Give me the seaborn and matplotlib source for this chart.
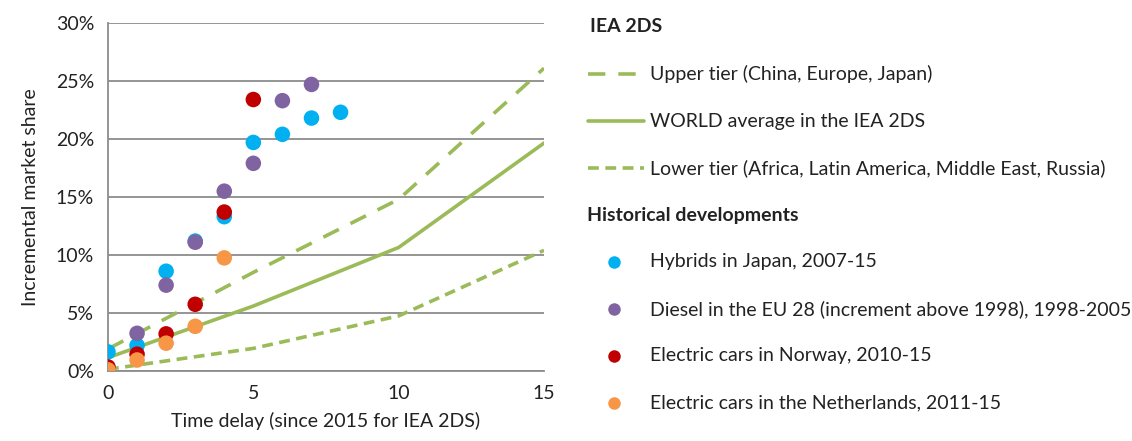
import numpy as np
import pandas as pd
import matplotlib
matplotlib.use("Agg")
import matplotlib.pyplot as plt
import seaborn as sns
from matplotlib.lines import Line2D
from matplotlib.ticker import PercentFormatter

# ── Data ─────────────────────────────────────────────────────────
years_hybrid = [0, 1, 2, 3, 4, 5, 6, 7, 8]
hybrid_japan = [1.65, 2.2, 8.6, 11.2, 13.3, 19.7, 20.4, 21.8, 22.3]

years_diesel = [0, 1, 2, 3, 4, 5, 6, 7]
diesel_eu = [0.0, 3.25, 7.4, 11.1, 15.5, 17.9, 23.3, 24.7]

years_norway = [0, 1, 2, 3, 4, 5]
ev_norway = [0.35, 1.45, 3.2, 5.75, 13.7, 23.4]

years_nl = [0, 1, 2, 3, 4]
ev_nl = [0.1, 0.95, 2.4, 3.85, 9.75]

years_2ds = [0, 5, 10, 15]
upper_tier = [1.9, 8.5, 14.8, 26.1]
world_avg = [1.15, 5.6, 10.65, 19.65]
lower_tier = [0.15, 1.95, 4.75, 10.4]

series_names = [
    "Hybrids in Japan, 2007-15",
    "Diesel in the EU 28 (increment above 1998), 1998-2005",
    "Electric cars in Norway, 2010-15",
    "Electric cars in the Netherlands, 2011-15",
]
line_names = [
    "Upper tier (China, Europe, Japan)",
    "WORLD average in the IEA 2DS",
    "Lower tier (Africa, Latin America, Middle East, Russia)",
]

dot_colors = ["#00B0F0", "#8064A2", "#C00000", "#F79646"]
green = "#9BBB59"
grid_grey = "#8C8C8C"
text_col = "#222222"
fs = 14

hist = pd.concat([
    pd.DataFrame({"year": years_hybrid, "share": hybrid_japan, "series": series_names[0]}),
    pd.DataFrame({"year": years_diesel, "share": diesel_eu, "series": series_names[1]}),
    pd.DataFrame({"year": years_norway, "share": ev_norway, "series": series_names[2]}),
    pd.DataFrame({"year": years_nl, "share": ev_nl, "series": series_names[3]}),
], ignore_index=True)

# ── Figure ───────────────────────────────────────────────────────
sns.set_style("white")
plt.rcParams["font.family"] = ["Lato", "DejaVu Sans"]

fig = plt.figure(figsize=(11.32, 4.41), dpi=100)
ax = fig.add_axes([0.0954, 0.1587, 0.3852, 0.7893])

upper_dash = (0, (4.8, 3.6))
lower_dash = (0, (3.0, 1.8))
lw = 2.6

sns.lineplot(x=years_2ds, y=upper_tier, ax=ax, color=green, linewidth=lw, linestyle=upper_dash)
sns.lineplot(x=years_2ds, y=world_avg, ax=ax, color=green, linewidth=lw)
sns.lineplot(x=years_2ds, y=lower_tier, ax=ax, color=green, linewidth=lw, linestyle=lower_dash)

sns.scatterplot(data=hist, x="year", y="share", hue="series", hue_order=series_names,
                palette=dot_colors, s=125, edgecolor="none", legend=False, ax=ax, zorder=3)

ax.set_xlim(0, 15)
ax.set_ylim(0, 30)
ax.set_xticks([0, 5, 10, 15])
ax.set_yticks(np.arange(0, 31, 5))
ax.yaxis.set_major_formatter(PercentFormatter(decimals=0))
ax.grid(axis="y", color=grid_grey, linewidth=1.3)
ax.set_axisbelow(True)
for side in ["top", "right"]:
    ax.spines[side].set_visible(False)
for side in ["left", "bottom"]:
    ax.spines[side].set_color(grid_grey)
    ax.spines[side].set_linewidth(1.3)
ax.tick_params(axis="both", length=4, width=1.3, color=grid_grey, labelsize=fs,
               labelcolor=text_col, pad=6)
ax.set_xlabel("Time delay (since 2015 for IEA 2DS)", fontsize=fs, color=text_col, labelpad=7)
ax.set_ylabel("Incremental market share", fontsize=fs, color=text_col, labelpad=12)

# ── Legend (drawn in figure pixels) ──────────────────────────────
W, H = 1132, 441
def fx(px):
    return px / W
def fy(py):
    return 1 - py / H

txt_kw = dict(fontsize=fs, color=text_col, va="center", ha="left")
fig.text(fx(590), fy(26), "IEA 2DS", fontweight="bold", **txt_kw)
fig.text(fx(587), fy(216), "Historical developments", fontweight="bold", **txt_kw)

line_styles = [upper_dash, "-", lower_dash]
for name, ls, py in zip(line_names, line_styles, [74, 121, 168]):
    fig.add_artist(Line2D([fx(588), fx(644)], [fy(py), fy(py)], color=green,
                          linewidth=lw, linestyle=ls, transform=fig.transFigure))
    fig.text(fx(650), fy(py), name, **txt_kw)

for name, c, py in zip(series_names, dot_colors, [262, 309, 356, 403]):
    fig.add_artist(Line2D([fx(614)], [fy(py)], marker="o", markersize=9, color=c,
                          markeredgecolor="none", linestyle="none", transform=fig.transFigure))
    fig.text(fx(650), fy(py), name, **txt_kw)

fig.savefig("out.png", dpi=100)
